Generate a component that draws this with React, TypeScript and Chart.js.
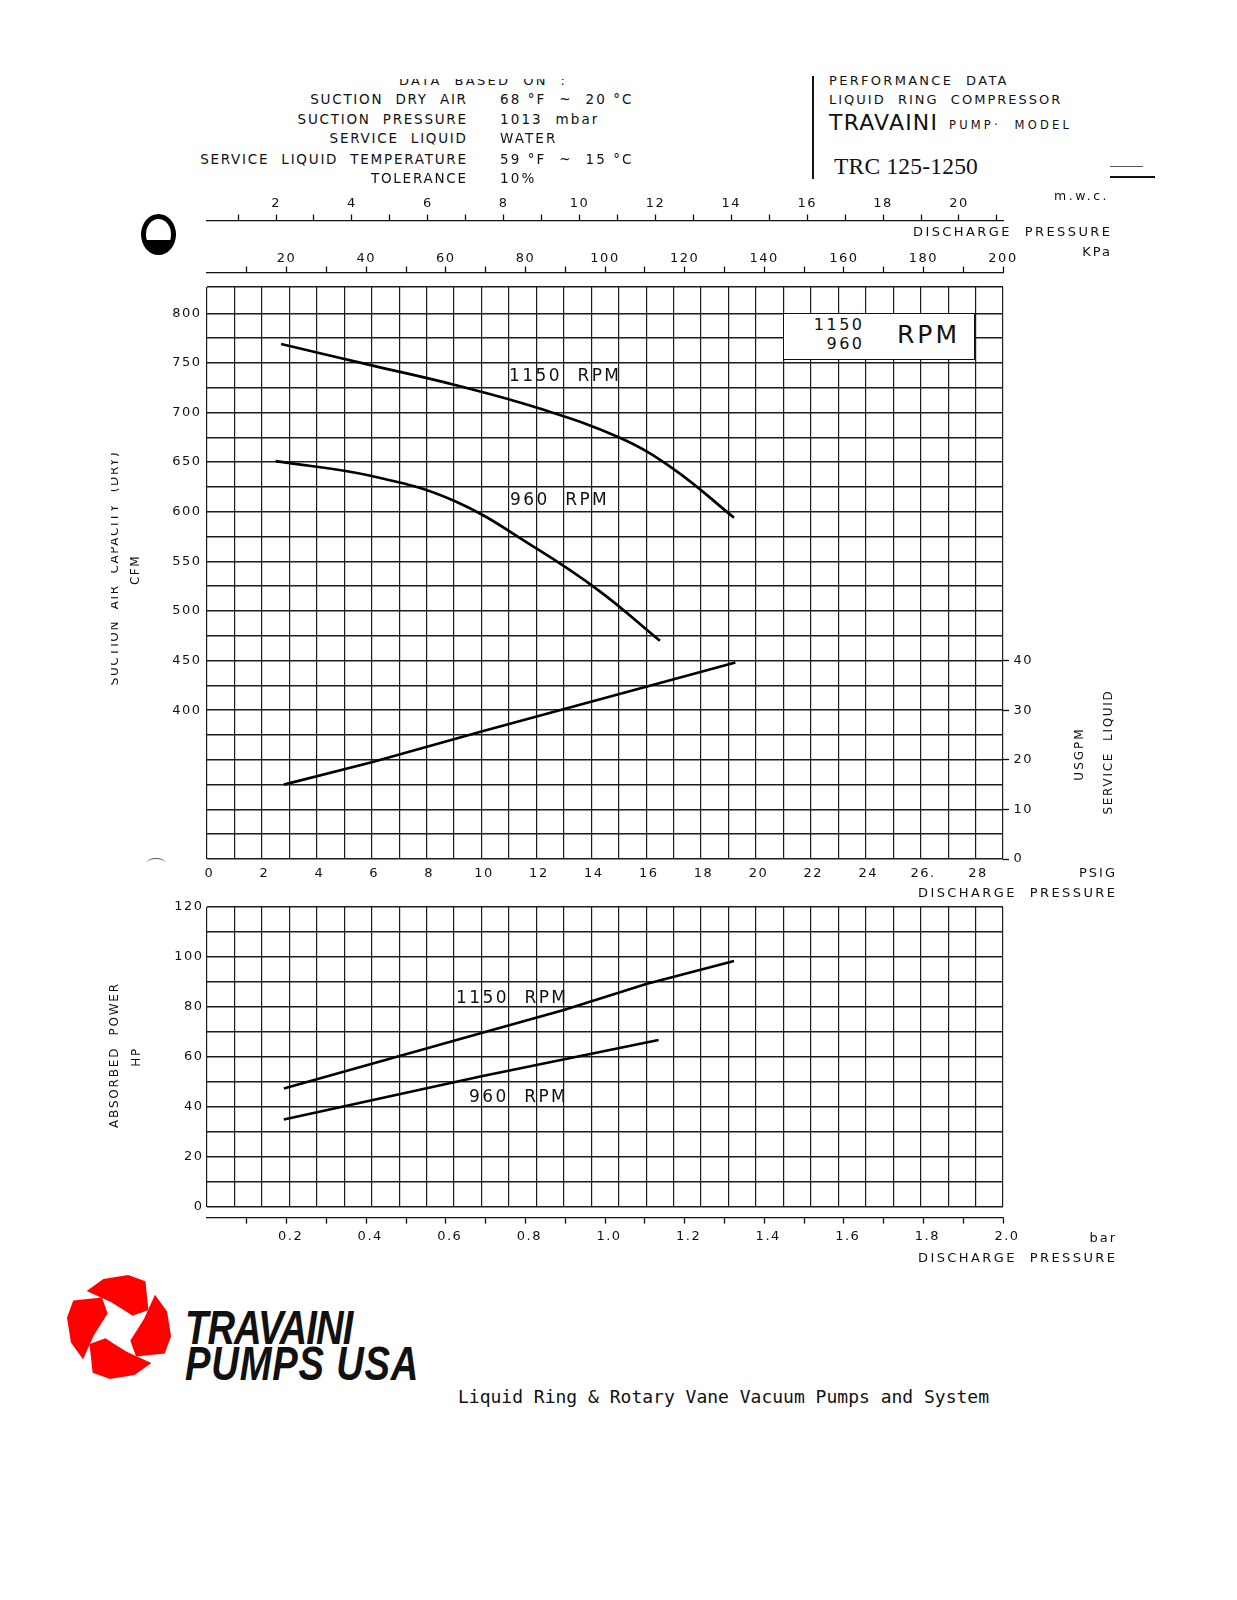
import React, { useEffect, useRef } from 'react';
import { Chart, registerables } from 'chart.js';

Chart.register(...registerables);

// ---------------- DATA ----------------
// Discharge pressure (PSIG) axis shared by both charts
const PSIG_MIN = 0;
const PSIG_MAX = 29;
const PSIG_TICK_VALUES = [0, 2, 4, 6, 8, 10, 12, 14, 16, 18, 20, 22, 24, 26, 28];
const PSIG_TICK_TEXT = ['0', '2', '4', '6', '8', '10', '12', '14', '16', '18', '20', '22', '24', '26.', '28'];

// Upper secondary scales
const KPA_MIN = 0;
const KPA_MAX = 200;
const KPA_TICK_VALUES = [20, 40, 60, 80, 100, 120, 140, 160, 180, 200];
const MWC_MIN = 0.18;
const MWC_MAX = 21.16;
const MWC_TICK_VALUES = [2, 4, 6, 8, 10, 12, 14, 16, 18, 20];

// Suction air capacity (CFM)
const CFM_MIN = 250;
const CFM_MAX = 826.5;
const CFM_TICK_VALUES = [400, 450, 500, 550, 600, 650, 700, 750, 800];

// Service liquid (USGPM) right axis
const USGPM_MIN = 0;
const USGPM_MAX = 115.3;
const USGPM_TICK_VALUES = [0, 10, 20, 30, 40];

// Absorbed power (HP)
const HP_MIN = 0;
const HP_MAX = 120;
const HP_TICK_VALUES = [0, 20, 40, 60, 80, 100, 120];

// bar axis (bottom)
const BAR_MIN = 0;
const BAR_MAX = 2.0;
const BAR_TICK_VALUES = [0.2, 0.4, 0.6, 0.8, 1.0, 1.2, 1.4, 1.6, 1.8, 2.0];
const BAR_TICK_TEXT = ['0.2', '0.4', '0.6', '0.8', '1.0', '1.2', '1.4', '1.6', '1.8', '2.0'];

// Capacity curves
const PSIG_CAP_1150 = [2.7, 6, 9, 12, 15, 17, 19.2];
const CFM_1150 = [769, 747.5, 728, 705, 675, 643, 594];
const PSIG_CAP_960 = [2.5, 6, 9, 12, 14.3, 16.5];
const CFM_960 = [651, 636, 611, 563, 520, 470];

// Service liquid line
const PSIG_SL = [2.8, 6, 10, 19.25];
const USGPM_SL = [15, 19.5, 25.7, 39.6];

// Absorbed power lines
const PSIG_HP_1150 = [2.8, 10, 13, 16, 19.2];
const HP_1150 = [47.4, 69.6, 78.8, 89.2, 98.4];
const PSIG_HP_960 = [2.8, 10, 16.45];
const HP_960 = [35, 52.3, 66.8];

// ---------------- STYLE HELPERS ----------------
const INK = '#111';
const GRID = '#1c1c1c';
const TICK_FONT = { family: 'DejaVu Sans', size: 13 };

const steps = (min: number, max: number, step: number) => {
  const out: number[] = [];
  for (let i = 0; min + i * step <= max + 1e-9; i++) out.push(+(min + i * step).toFixed(4));
  return out;
};
const fixedTicks = (values: number[]) => (scale: any) => {
  scale.ticks = values.map((v) => ({ value: v }));
};
const fixedHeight = (h: number) => (scale: any) => {
  scale.height = h;
};
const fixedWidth = (w: number) => (scale: any) => {
  scale.width = w;
};
const labelFrom = (values: number[], texts?: string[]) => (v: any) => {
  const i = values.findIndex((b) => Math.abs(b - Number(v)) < 1e-6);
  if (i < 0) return '';
  return texts ? texts[i] : String(values[i]);
};

const letterSpacingPlugin = {
  id: 'letterSpacing',
  beforeUpdate(chart: any) {
    chart.ctx.letterSpacing = '1.5px';
  },
  beforeDraw(chart: any) {
    chart.ctx.letterSpacing = '1.5px';
  },
};

const pts = (xs: number[], ys: number[]) => xs.map((x, i) => ({ x, y: ys[i] }));

const lineDs = (label: string, data: any[], yAxisID: string, curved: boolean) => ({
  label,
  data,
  xAxisID: 'x',
  yAxisID,
  borderColor: '#000',
  borderWidth: 2.7,
  pointRadius: 0,
  fill: false,
  tension: curved ? 0.4 : 0,
});

const axisTickGrid = (len: number) => ({
  display: true,
  drawOnChartArea: false,
  drawTicks: true,
  tickLength: len,
  tickColor: INK,
  tickWidth: 1.3,
});

function buildTopConfig(): any {
  return {
    type: 'line',
    data: {
      datasets: [
        lineDs('1150 RPM', pts(PSIG_CAP_1150, CFM_1150), 'y', true),
        lineDs('960 RPM', pts(PSIG_CAP_960, CFM_960), 'y', true),
        lineDs('Service liquid', pts(PSIG_SL, USGPM_SL), 'y2', false),
      ],
    },
    options: {
      responsive: false,
      animation: false,
      devicePixelRatio: 1,
      events: [],
      layout: { padding: 0, autoPadding: false },
      plugins: { legend: { display: false }, tooltip: { enabled: false } },
      scales: {
        x: {
          type: 'linear',
          position: 'bottom',
          weight: 0,
          min: PSIG_MIN,
          max: PSIG_MAX,
          afterBuildTicks: fixedTicks(steps(PSIG_MIN, PSIG_MAX, 1)),
          afterFit: fixedHeight(41),
          grid: { color: GRID, lineWidth: 1.2, drawTicks: false },
          border: { display: false },
          ticks: {
            autoSkip: false,
            maxRotation: 0,
            minRotation: 0,
            padding: 6.5,
            labelOffset: 2.5,
            color: INK,
            font: TICK_FONT,
            callback: labelFrom(PSIG_TICK_VALUES, PSIG_TICK_TEXT),
          },
        },
        xSpacer: {
          type: 'linear',
          position: 'top',
          weight: 0,
          afterFit: fixedHeight(14.5),
          grid: { display: false },
          ticks: { display: false },
          border: { display: false },
        },
        xKpa: {
          type: 'linear',
          position: 'top',
          weight: 1,
          min: KPA_MIN,
          max: KPA_MAX,
          afterBuildTicks: fixedTicks(steps(10, KPA_MAX, 10)),
          afterFit: fixedHeight(52),
          grid: axisTickGrid(6),
          border: { display: true, color: INK, width: 1.3 },
          ticks: {
            autoSkip: false,
            maxRotation: 0,
            minRotation: 0,
            padding: 0,
            color: INK,
            font: TICK_FONT,
            callback: labelFrom(KPA_TICK_VALUES),
          },
        },
        xMwc: {
          type: 'linear',
          position: 'top',
          weight: 2,
          min: MWC_MIN,
          max: MWC_MAX,
          afterBuildTicks: fixedTicks(steps(1, 21, 1)),
          afterFit: fixedHeight(40.5),
          grid: axisTickGrid(6),
          border: { display: true, color: INK, width: 1.3 },
          ticks: {
            autoSkip: false,
            maxRotation: 0,
            minRotation: 0,
            padding: 3,
            color: INK,
            font: TICK_FONT,
            callback: labelFrom(MWC_TICK_VALUES),
          },
        },
        y: {
          type: 'linear',
          position: 'left',
          min: CFM_MIN,
          max: CFM_MAX,
          afterBuildTicks: fixedTicks(steps(CFM_MIN, 800, 25).concat([CFM_MAX])),
          afterFit: fixedWidth(207),
          grid: { color: GRID, lineWidth: 1.4, drawTicks: false },
          border: { display: false },
          ticks: {
            autoSkip: false,
            padding: 5.5,
            color: INK,
            font: TICK_FONT,
            callback: labelFrom(CFM_TICK_VALUES),
          },
        },
        y2: {
          type: 'linear',
          position: 'right',
          min: USGPM_MIN,
          max: USGPM_MAX,
          afterBuildTicks: fixedTicks(USGPM_TICK_VALUES),
          afterFit: fixedWidth(234),
          grid: axisTickGrid(6),
          border: { display: false },
          ticks: {
            autoSkip: false,
            padding: 4.5,
            color: INK,
            font: TICK_FONT,
            callback: labelFrom(USGPM_TICK_VALUES),
          },
        },
      },
    },
    plugins: [letterSpacingPlugin],
  };
}

function buildBottomConfig(): any {
  return {
    type: 'line',
    data: {
      datasets: [
        lineDs('1150 RPM', pts(PSIG_HP_1150, HP_1150), 'y', false),
        lineDs('960 RPM', pts(PSIG_HP_960, HP_960), 'y', false),
      ],
    },
    options: {
      responsive: false,
      animation: false,
      devicePixelRatio: 1,
      events: [],
      layout: { padding: { top: 27, right: 234, left: 0, bottom: 0 }, autoPadding: false },
      plugins: { legend: { display: false }, tooltip: { enabled: false } },
      scales: {
        x: {
          type: 'linear',
          position: 'bottom',
          weight: 0,
          min: PSIG_MIN,
          max: PSIG_MAX,
          afterBuildTicks: fixedTicks(steps(PSIG_MIN, PSIG_MAX, 1)),
          afterFit: fixedHeight(10.6),
          grid: { color: GRID, lineWidth: 1.2, drawTicks: false },
          border: { display: false },
          ticks: { display: false, autoSkip: false },
        },
        xBar: {
          type: 'linear',
          position: 'bottom',
          weight: 1,
          min: BAR_MIN,
          max: BAR_MAX,
          afterBuildTicks: fixedTicks(steps(0.1, BAR_MAX, 0.1)),
          afterFit: fixedHeight(62.4),
          grid: axisTickGrid(6),
          border: { display: true, color: INK, width: 1.3 },
          ticks: {
            autoSkip: false,
            maxRotation: 0,
            minRotation: 0,
            padding: 5.6,
            labelOffset: 4,
            color: INK,
            font: TICK_FONT,
            callback: labelFrom(BAR_TICK_VALUES, BAR_TICK_TEXT),
          },
        },
        y: {
          type: 'linear',
          position: 'left',
          min: HP_MIN,
          max: HP_MAX,
          afterBuildTicks: fixedTicks(steps(HP_MIN, HP_MAX, 10)),
          afterFit: fixedWidth(207),
          grid: { color: GRID, lineWidth: 1.4, drawTicks: false },
          border: { display: false },
          ticks: {
            autoSkip: false,
            padding: 3.5,
            color: INK,
            font: TICK_FONT,
            callback: labelFrom(HP_TICK_VALUES),
          },
        },
      },
    },
    plugins: [letterSpacingPlugin],
  };
}

// ---------------- TEXT HELPERS ----------------
type TxtProps = {
  x: number;
  y: number;
  size?: number;
  ls?: number;
  align?: 'left' | 'right' | 'center';
  family?: string;
  weight?: number | string;
  italic?: boolean;
  children: React.ReactNode;
  extra?: React.CSSProperties;
};

function Txt({ x, y, size = 13, ls = 2.2, align = 'left', family = 'DejaVu Sans', weight = 'normal', italic = false, children, extra = {} }: TxtProps) {
  const k = family.includes('Serif') ? 0.506 : family.includes('Liberation Sans') ? 0.4885 : 0.4815;
  const tx = align === 'left' ? '0' : align === 'right' ? '-100%' : '-50%';
  const left = align === 'right' ? x + ls : align === 'center' ? x + ls / 2 : x;
  return (
    <div
      style={{
        position: 'absolute',
        left,
        top: y - k * size,
        fontFamily: family,
        fontSize: size,
        fontWeight: weight as any,
        fontStyle: italic ? 'italic' : 'normal',
        lineHeight: 1,
        letterSpacing: ls,
        whiteSpace: 'pre',
        color: INK,
        transform: `translateX(${tx})`,
        ...extra,
      }}
    >
      {children}
    </div>
  );
}

function Rot({ cx, cy, size = 12, ls = 1.8, children }: { cx: number; cy: number; size?: number; ls?: number; children: React.ReactNode }) {
  return (
    <div
      style={{
        position: 'absolute',
        left: cx,
        top: cy,
        fontFamily: 'DejaVu Sans',
        fontSize: size,
        lineHeight: 1,
        letterSpacing: ls,
        whiteSpace: 'pre',
        color: INK,
        transform: 'translate(-50%, -50%) rotate(-90deg)',
      }}
    >
      {children}
    </div>
  );
}

function Clip({ left, top, width, height, children }: { left: number; top: number; width: number; height: number; children: React.ReactNode }) {
  return (
    <div style={{ position: 'absolute', left, top, width, height, overflow: 'hidden' }}>
      <div style={{ position: 'absolute', left: -left, top: -top, width: 1237, height: 1600 }}>{children}</div>
    </div>
  );
}

const ARM: number[][] = [
  [48, 0],
  [31, 30],
  [16, 20],
  [16, -14],
  [24, -48],
  [44, -72],
  [46, -48],
  [48, -20],
];
const ARM_ROTATIONS = [300, 30, 120, 210];
function armPath(rot: number) {
  return (
    ARM.map(([r, a], i) => {
      const t = ((a + rot) * Math.PI) / 180;
      return `${i ? 'L' : 'M'}${(50 + r * Math.sin(t)).toFixed(1)} ${(50 - r * Math.cos(t)).toFixed(1)}`;
    }).join(' ') + ' Z'
  );
}

export default function App() {
  const topRef = useRef<HTMLCanvasElement>(null);
  const botRef = useRef<HTMLCanvasElement>(null);

  useEffect(() => {
    const c1 = new Chart(topRef.current as HTMLCanvasElement, buildTopConfig());
    const c2 = new Chart(botRef.current as HTMLCanvasElement, buildBottomConfig());
    return () => {
      c1.destroy();
      c2.destroy();
    };
  }, []);

  const hdrLabels = ['SUCTION  DRY  AIR', 'SUCTION  PRESSURE', 'SERVICE  LIQUID', 'SERVICE  LIQUID  TEMPERATURE', 'TOLERANCE'];
  const hdrValues = ['68 °F  ~  20 °C', '1013  mbar', 'WATER', '59 °F  ~  15 °C', '10%'];
  const hdrY = [100, 119.4, 138.8, 159.2, 178.6];

  return (
    <div style={{ position: 'absolute', left: 0, top: 0, width: 1237, height: 1600, background: '#fff', overflow: 'hidden' }}>
      <canvas ref={topRef} width={1237} height={720} style={{ position: 'absolute', left: 0, top: 180, width: 1237, height: 720 }} />
      <canvas ref={botRef} width={1237} height={400} style={{ position: 'absolute', left: 0, top: 880, width: 1237, height: 400 }} />

      {/* Header: data based on */}
      <Clip left={360} top={79} width={260} height={14}>
        <Txt x={482} y={80} size={13} ls={2.3} align="center">DATA  BASED  ON  :</Txt>
      </Clip>
      {hdrLabels.map((t, i) => (
        <Txt key={t} x={466} y={hdrY[i]} size={13.5} ls={1.75} align="right">
          {t}
        </Txt>
      ))}
      {hdrValues.map((t, i) => (
        <Txt key={t} x={500} y={hdrY[i]} size={13.5} ls={2.1}>
          {t}
        </Txt>
      ))}

      {/* Header: performance data block */}
      <div style={{ position: 'absolute', left: 812, top: 76, width: 1.6, height: 103, background: INK }} />
      <Txt x={829} y={80} size={13} ls={2.3}>PERFORMANCE  DATA</Txt>
      <Txt x={829} y={99.5} size={13} ls={2.0}>LIQUID  RING  COMPRESSOR</Txt>
      <Txt x={829} y={123} size={22} ls={1.2}>TRAVAINI</Txt>
      <Txt x={949} y={125.5} size={11.5} ls={3.2}>PUMP·  MODEL</Txt>
      <Txt x={834} y={166.7} size={23.5} ls={0.2} family="Liberation Serif">TRC 125-1250</Txt>
      <div style={{ position: 'absolute', left: 1110, top: 166, width: 33, height: 1, background: '#555' }} />
      <div style={{ position: 'absolute', left: 1110, top: 176, width: 45, height: 1.6, background: INK }} />

      {/* hole punch mark */}
      <div
        style={{
          position: 'absolute',
          left: 141,
          top: 214,
          width: 25,
          height: 31,
          border: '5px solid #000',
          borderRadius: '50%',
          background: 'linear-gradient(to bottom, #fff 68%, #000 68%)',
        }}
      />

      {/* Upper axes captions */}
      <Txt x={1054} y={196.5} size={12.5} ls={2.5}>m.w.c.</Txt>
      <Txt x={1110} y={231.7} size={13} ls={2.4} align="right">DISCHARGE  PRESSURE</Txt>
      <Txt x={1110} y={251} size={13} ls={2} align="right">KPa</Txt>

      {/* Left axis titles */}
      <Clip left={110.5} top={400} width={40} height={340}>
        <Rot cx={113.5} cy={568} size={12} ls={1.6}>SUCTION  AIR  CAPACITY  (DRY)</Rot>
      </Clip>
      <Rot cx={135} cy={570} size={12} ls={1.5}>CFM</Rot>
      <Clip left={108.5} top={960} width={40} height={200}>
        <Rot cx={114} cy={1055} size={12} ls={1.8}>ABSORBED  POWER</Rot>
      </Clip>
      <Rot cx={136} cy={1057} size={12} ls={1.5}>HP</Rot>

      {/* Right axis titles */}
      <Rot cx={1079} cy={754} size={12} ls={2}>USGPM</Rot>
      <Rot cx={1108} cy={752} size={12} ls={1.7}>SERVICE  LIQUID</Rot>

      {/* Middle captions */}
      <Txt x={1115} y={872.6} size={13} ls={2} align="right">PSIG</Txt>
      <Txt x={1115} y={892} size={13} ls={2.4} align="right">DISCHARGE  PRESSURE</Txt>
      <div style={{ position: 'absolute', left: 147, top: 858, width: 18, height: 8, borderTop: '1px solid #555', borderRadius: '50%' }} />

      {/* Bottom captions */}
      <Txt x={1115} y={1237} size={13} ls={2} align="right">bar</Txt>
      <Txt x={1115} y={1257.4} size={13} ls={2.4} align="right">DISCHARGE  PRESSURE</Txt>

      {/* Curve labels top chart */}
      <Txt x={509} y={375.6} size={17} ls={2.4}>1150  RPM</Txt>
      <Txt x={510} y={499} size={17} ls={2.4}>960  RPM</Txt>

      {/* RPM box */}
      <div
        style={{
          position: 'absolute',
          left: 783,
          top: 313,
          width: 192,
          height: 47,
          background: '#fff',
          border: `1.5px solid ${INK}`,
          boxSizing: 'border-box',
        }}
      />
      <Txt x={862} y={324.5} size={16} ls={2.5} align="right">1150</Txt>
      <Txt x={862} y={344} size={16} ls={2.5} align="right">960</Txt>
      <Txt x={927} y={334} size={25} ls={3} align="center">RPM</Txt>

      {/* Curve labels bottom chart */}
      <Txt x={456} y={997} size={17} ls={2.4}>1150  RPM</Txt>
      <Txt x={469} y={1096} size={17} ls={2.4}>960  RPM</Txt>

      {/* Logo */}
      <svg width={110} height={110} viewBox="0 0 100 100" style={{ position: 'absolute', left: 64, top: 1272 }}>
        {ARM_ROTATIONS.map((r) => (
          <path key={r} d={armPath(r)} fill="#ff0000" />
        ))}
      </svg>
      <Txt x={185} y={1326.5} size={49} ls={-1.2} family="Liberation Sans" weight="bold" italic extra={{ transform: 'scaleX(0.78)', transformOrigin: 'left center' }}>
        TRAVAINI
      </Txt>
      <Txt x={185} y={1362.5} size={49} ls={1} family="Liberation Sans" weight="bold" italic extra={{ transform: 'scaleX(0.78)', transformOrigin: 'left center' }}>
        PUMPS USA
      </Txt>

      {/* Footer */}
      <Txt x={458} y={1397} size={18} ls={0} family="DejaVu Sans Mono">Liquid Ring &amp; Rotary Vane Vacuum Pumps and System</Txt>
    </div>
  );
}
